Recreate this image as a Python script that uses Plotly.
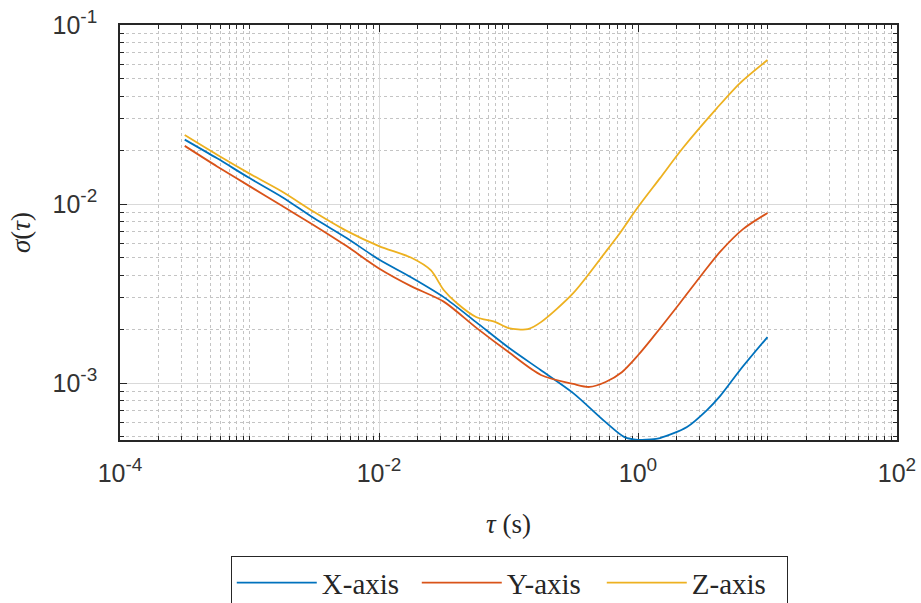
import plotly.graph_objects as go

# ---- data ----
tau_x = [3.16e-4, 5.62e-4, 1e-3, 1.78e-3, 3.16e-3, 5.62e-3, 1e-2, 1.78e-2, 3.16e-2,
         5.62e-2, 0.1, 0.178, 0.316, 0.562, 0.794, 1.0, 1.26, 1.48, 2.39, 3.41, 4.30, 6.14, 10.0]
sigma_x = [0.0229, 0.0180, 0.01396, 0.01096, 0.00832, 0.00646, 0.00490, 0.00389, 0.00302,
           0.00219, 0.00158, 0.00118, 0.000879, 0.000605, 0.000497, 0.000482, 0.000484,
           0.000493, 0.000568, 0.000706, 0.000845, 0.001183, 0.001807]

tau_y = [3.16e-4, 5.62e-4, 1e-3, 1.78e-3, 3.16e-3, 5.62e-3, 1e-2, 1.78e-2, 3.16e-2,
         5.62e-2, 0.1, 0.178, 0.316, 0.422, 0.562, 0.75, 1.0, 1.31, 2.11, 3.18, 4.30, 6.47, 10.0]
sigma_y = [0.02113, 0.01622, 0.01259, 0.00977, 0.00759, 0.00582, 0.00437, 0.00347, 0.00285,
           0.00204, 0.00149, 0.00111, 0.000989, 0.000951, 0.001014, 0.00115, 0.00143,
           0.00181, 0.00280, 0.00412, 0.00540, 0.00724, 0.00891]

tau_z = [3.16e-4, 5.62e-4, 1e-3, 1.78e-3, 3.16e-3, 5.62e-3, 1e-2, 1.78e-2, 2.51e-2, 3.16e-2,
         3.98e-2, 5.62e-2, 7.94e-2, 0.1, 0.141, 0.178, 0.316, 0.562, 0.726, 1.0, 1.48, 2.22,
         4.07, 6.14, 10.0]
sigma_z = [0.02427, 0.01884, 0.01479, 0.01175, 0.00902, 0.00708, 0.00582, 0.00501, 0.00427,
           0.00331, 0.0028, 0.00234, 0.00219, 0.00203, 0.00200, 0.00219, 0.00318, 0.0054,
           0.00689, 0.00962, 0.01396, 0.02056, 0.03435, 0.0474, 0.0637]

series_names = ["X-axis", "Y-axis", "Z-axis"]
series_colors = ["#0072BD", "#D95319", "#EDB120"]

SUP = "<sup><span style='font-size:19px'>{}</span></sup>"
x_tickvals = [1e-4, 1e-2, 1e0, 1e2]
x_ticktext = ["10" + SUP.format(p) for p in ["-4", "-2", "0", "2"]]
y_tickvals = [1e-3, 1e-2, 1e-1]
y_ticktext = ["10" + SUP.format(p) for p in ["-3", "-2", "-1"]]

# minor tick positions (every decade multiple)
x_minor = [m * 10.0 ** e for e in range(-4, 2) for m in range(1, 10)] + [100.0]
y_minor = [m * 10.0 ** e for e in range(-4, -1) for m in range(1, 10)] + [0.1]

fig = go.Figure()
for t, s, n, c in zip([tau_x, tau_y, tau_z], [sigma_x, sigma_y, sigma_z],
                      series_names, series_colors):
    fig.add_trace(go.Scatter(x=t, y=s, name=n, mode="lines",
                             line=dict(color=c, width=1.8, shape="spline", smoothing=0.8)))

axis_common = dict(
    type="log",
    showline=True, linecolor="#262626", linewidth=1.5, mirror="ticks",
    ticks="inside", ticklen=7, tickwidth=1, tickcolor="#262626",
    showgrid=True, gridcolor="#d9d9d9", gridwidth=1,
    zeroline=False, layer="below traces",
    tickfont=dict(family="Liberation Sans, Arial, sans-serif", size=25, color="#333333"),
    tickmode="array",
)

fig.update_xaxes(
    **axis_common,
    range=[-4, 2],
    tickvals=x_tickvals, ticktext=x_ticktext,
    ticklabelstandoff=10,
    minor=dict(tickmode="array", tickvals=x_minor, ticks="inside", ticklen=4,
               tickcolor="#262626", showgrid=True, gridcolor="#c4c4c4",
               griddash="dot", gridwidth=1),
    title=dict(text="<i>τ</i> (s)", standoff=28,
               font=dict(family="Liberation Serif, Times New Roman, serif", size=27, color="#262626")),
)
fig.update_yaxes(
    **axis_common,
    range=[-3.318, -1],
    tickvals=y_tickvals, ticktext=y_ticktext,
    ticklabelstandoff=16,
    minor=dict(tickmode="array", tickvals=y_minor, ticks="inside", ticklen=4,
               tickcolor="#262626", showgrid=True, gridcolor="#c4c4c4",
               griddash="dot", gridwidth=1),
    title=dict(text="<i>σ</i>(<i>τ</i>)", standoff=14,
               font=dict(family="Liberation Serif, Times New Roman, serif", size=27, color="#262626")),
)

fig.update_layout(
    width=921, height=603,
    margin=dict(l=120, r=24, t=25, b=163, autoexpand=False),
    paper_bgcolor="white", plot_bgcolor="white",
    showlegend=True,
    legend=dict(orientation="h", x=0.501, xanchor="center", y=-0.28, yanchor="top",
                bordercolor="#262626", borderwidth=1, bgcolor="white",
                font=dict(family="Liberation Serif, Times New Roman, serif", size=29, color="#262626"),
                itemwidth=80, entrywidth=90),
)

fig.write_html("out.html", config={"displayModeBar": False},
               post_script="document.body.style.margin='0px';")
